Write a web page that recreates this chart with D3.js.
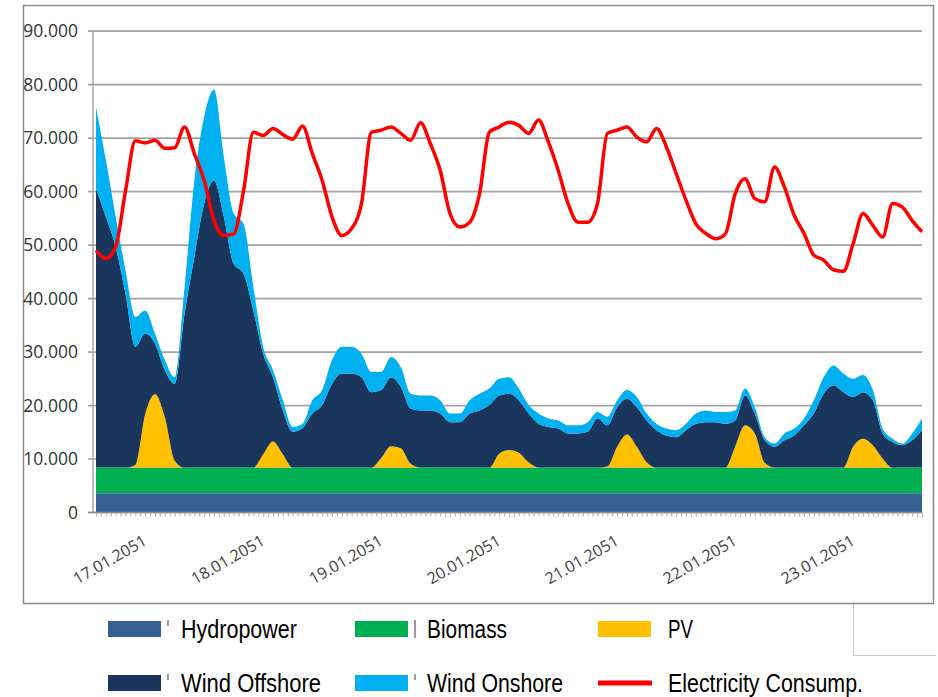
<!DOCTYPE html>
<html>
<head>
<meta charset="utf-8">
<script src="https://cdn.jsdelivr.net/npm/d3@7/dist/d3.min.js"></script>
<style>
  body { margin: 0; background: #fff; }
  svg { display: block; }
</style>
</head>
<body>
<script>
// hours since 17.01.2051 00:00, one value every 2 hours
var hours = d3.range(0, 169, 2);

var hydropower = [3500,3500,3500,3500,3500,3500,3500,3500,3500,3500,3500,3500,3500,3500,3500,3500,3500,3500,3500,3500,
  3500,3500,3500,3500,3500,3500,3500,3500,3500,3500,3500,3500,3500,3500,3500,3500,3500,3500,3500,3500,
  3500,3500,3500,3500,3500,3500,3500,3500,3500,3500,3500,3500,3500,3500,3500,3500,3500,3500,3500,3500,
  3500,3500,3500,3500,3500,3500,3500,3500,3500,3500,3500,3500,3500,3500,3500,3500,3500,3500,3500,3500,
  3500,3500,3500,3500,3500];
var biomass = [4800,4800,4800,4800,4800,4800,4800,4800,4800,4800,4800,4800,4800,4800,4800,4800,4800,4800,4800,4800,
  4800,4800,4800,4800,4800,4800,4800,4800,4800,4800,4800,4800,4800,4800,4800,4800,4800,4800,4800,4800,
  4800,4800,4800,4800,4800,4800,4800,4800,4800,4800,4800,4800,4800,4800,4800,4800,4800,4800,4800,4800,
  4800,4800,4800,4800,4800,4800,4800,4800,4800,4800,4800,4800,4800,4800,4800,4800,4800,4800,4800,4800,
  4800,4800,4800,4800,4800];
var pv = [0,0,0,0,500,10000,13700,9400,1300,0,0,0,0,0,0,0,0,2500,4900,2500,
  0,0,0,0,0,0,0,0,0,1800,4000,3600,700,0,0,0,0,0,0,0,
  0,2600,3300,2800,1000,0,0,0,0,0,0,0,200,3900,6200,3900,1000,0,0,0,
  0,0,0,0,0,3900,7900,6400,900,0,0,0,0,0,0,0,0,3900,5400,4200,
  1700,0,0,0,0];
var windOffshore = [52200,46900,41300,32500,22100,15100,9500,8800,14400,28700,39400,49400,53700,46900,38100,36300,29400,18800,12000,8200,
  6700,7400,10100,11700,15700,17600,17600,16900,14100,12700,12900,11500,10300,10700,10700,10100,8500,8500,10100,10700,
  11700,10900,10500,9800,9100,8200,7600,7300,6400,6400,6700,9200,7700,7400,6700,7400,7800,7000,6000,5700,
  7000,8200,8500,8500,8200,4900,5600,3700,4200,3900,5100,6000,7900,10100,13800,15400,14100,9300,8700,8400,
  4700,4800,4200,5100,7000];
var windOnshore = [15200,10600,5600,4400,5600,4300,1900,1900,1200,5000,14300,16200,17000,11200,9400,9300,4400,1300,1300,1900,
  900,800,2500,2800,4400,5000,5000,4400,3800,3400,3800,3700,2800,2800,2800,2500,1600,1600,2500,3100,
  3100,3100,3100,2200,1600,1900,1600,1500,1500,1500,1800,1200,1600,1300,1600,1900,1300,1200,1300,1300,
  1200,1900,2200,1900,2200,1900,1300,1200,600,600,1300,1300,1300,2500,3100,3700,3500,3400,3200,1900,
  900,600,300,1300,2200];
var consumption = [48900,47400,49600,60000,69400,69000,69500,68000,68100,72000,67000,62000,54500,51700,52000,60000,71000,70400,71700,70600,
  69700,72200,67000,62000,55200,51700,53000,57700,71000,71400,72000,70800,69500,72800,68900,63900,55800,53300,54200,59500,
  71000,72000,72900,72300,70800,73300,69200,63900,57700,54200,54200,57700,70800,71400,72000,70100,69200,71700,68300,63300,
  58300,53900,52100,51100,52000,59500,62300,58600,58000,64500,60800,55500,52100,48000,47100,45300,45000,50200,55800,53600,
  51400,57700,57000,54500,52400];

var dayLabels = ["17.01.2051","18.01.2051","19.01.2051","20.01.2051","21.01.2051","22.01.2051","23.01.2051"];
var yTicks = [0,10000,20000,30000,40000,50000,60000,70000,80000,90000];

var seriesNames = ["Hydropower","Biomass","PV","Wind Offshore","Wind Onshore"];
var seriesColors = ["#376092","#00b050","#ffc000","#1b365d","#00b0f0"];
var lineColor = "#ff0000";

var width = 938, height = 697;
var plotLeft = 96, plotRight = 922, plotTop = 30.7, plotBottom = 512;

var svg = d3.select("body").append("svg")
  .attr("width", width)
  .attr("height", height);

svg.append("rect").attr("width", width).attr("height", height).attr("fill", "#fff");

var x = d3.scaleLinear().domain([0, 168]).range([plotLeft, plotRight]);
var y = d3.scaleLinear().domain([0, 90000]).range([plotBottom, plotTop]);

var de = d3.formatLocale({decimal: ",", thousands: ".", grouping: [3], currency: ["", "€"]});
var fmt = de.format(",.0f");

// outer frame
svg.append("rect")
  .attr("x", 23.5).attr("y", 5.5)
  .attr("width", 910).attr("height", 598)
  .attr("fill", "none")
  .attr("stroke", "#8a8a8a")
  .attr("stroke-width", 1.5);
svg.append("path")
  .attr("d", "M853.5,604V655.5H936")
  .attr("fill", "none")
  .attr("stroke", "#c8c8c8")
  .attr("stroke-width", 1);

// grid lines + y axis
var yAxis = d3.axisLeft(y)
  .tickValues(yTicks)
  .tickSize(-(plotRight - 88))
  .tickPadding(10)
  .tickFormat(fmt);
var gy = svg.append("g")
  .attr("transform", "translate(88,0)")
  .call(yAxis);
gy.select(".domain").remove();
gy.selectAll(".tick line")
  .attr("stroke", "#a3a3a3")
  .attr("stroke-width", 1.7);
gy.selectAll(".tick text")
  .attr("fill", "#333")
  .attr("font-family", "'Open Sans', sans-serif")
  .attr("font-size", "17.5px")
  .attr("dy", "0.35em");

svg.append("line")
  .attr("x1", 93).attr("x2", 93)
  .attr("y1", plotTop).attr("y2", plotBottom)
  .attr("stroke", "#a6a6a6").attr("stroke-width", 1.5);

// stacked areas
var rows = hours.map(function(h, i) {
  return {
    hour: h,
    "Hydropower": hydropower[i],
    "Biomass": biomass[i],
    "PV": pv[i],
    "Wind Offshore": windOffshore[i],
    "Wind Onshore": windOnshore[i]
  };
});
var stack = d3.stack().keys(seriesNames);
var layers = stack(rows);

var area = d3.area()
  .curve(d3.curveMonotoneX)
  .x(function(d) { return x(d.data.hour); })
  .y0(function(d) { return y(d[0]); })
  .y1(function(d) { return y(d[1]); });

svg.selectAll("path.layer")
  .data(layers)
  .enter()
  .append("path")
  .attr("class", "layer")
  .attr("d", area)
  .attr("fill", function(d, i) { return seriesColors[i]; });

// x axis with hourly minor ticks
var xAxis = d3.axisBottom(x)
  .tickValues(d3.range(0, 169, 1))
  .tickSize(4)
  .tickFormat("");
var gx = svg.append("g")
  .attr("transform", "translate(0," + (plotBottom + 0.5) + ")")
  .call(xAxis);
gx.select(".domain")
  .attr("d", "M88,0H" + plotRight)
  .attr("stroke", "#8c8c8c")
  .attr("stroke-width", 1.5);
gx.selectAll(".tick line")
  .attr("stroke", "#9a9a9a")
  .attr("stroke-width", 0.8);

svg.selectAll("text.day")
  .data(dayLabels)
  .enter()
  .append("text")
  .attr("class", "day")
  .attr("transform", function(d, i) {
    return "translate(" + (x(12 + 24 * i) - 7) + ",544) rotate(-30)";
  })
  .attr("text-anchor", "end")
  .attr("font-family", "'Open Sans', sans-serif")
  .attr("font-size", "16px")
  .attr("fill", "#404040")
  .text(function(d) { return d; });

// consumption line
var line = d3.line()
  .curve(d3.curveMonotoneX)
  .x(function(d, i) { return x(hours[i]); })
  .y(function(d) { return y(d); });

svg.append("path")
  .datum(consumption)
  .attr("d", line)
  .attr("fill", "none")
  .attr("stroke", lineColor)
  .attr("stroke-width", 3.5)
  .attr("stroke-linejoin", "round");

// legend
var legendItems = [
  {name: "Hydropower", color: seriesColors[0], x: 108, y: 629, tx: 181, tw: 116, type: "rect", mark: "short"},
  {name: "Biomass", color: seriesColors[1], x: 355, y: 629, tx: 427, tw: 80, type: "rect", mark: "long"},
  {name: "PV", color: seriesColors[2], x: 598, y: 629, tx: 668, tw: 25, type: "rect", mark: ""},
  {name: "Wind Offshore", color: seriesColors[3], x: 108, y: 683, tx: 181, tw: 140, type: "rect", mark: "short"},
  {name: "Wind Onshore", color: seriesColors[4], x: 355, y: 683, tx: 427, tw: 136, type: "rect", mark: "short"},
  {name: "Electricity Consump.", color: lineColor, x: 598, y: 683, tx: 668, tw: 195, type: "line", mark: ""}
];

var lg = svg.selectAll("g.legend")
  .data(legendItems)
  .enter()
  .append("g")
  .attr("class", "legend");

lg.filter(function(d) { return d.type == "rect"; })
  .append("rect")
  .attr("x", function(d) { return d.x; })
  .attr("y", function(d) { return d.y - 8; })
  .attr("width", 53)
  .attr("height", 16)
  .attr("fill", function(d) { return d.color; });

lg.filter(function(d) { return d.type == "line"; })
  .append("line")
  .attr("x1", function(d) { return d.x; })
  .attr("x2", function(d) { return d.x + 54; })
  .attr("y1", function(d) { return d.y; })
  .attr("y2", function(d) { return d.y; })
  .attr("stroke", function(d) { return d.color; })
  .attr("stroke-width", 5);

// little clipped marks next to some swatches
lg.filter(function(d) { return d.mark != ""; })
  .append("line")
  .attr("x1", function(d) { return d.x + 60; })
  .attr("x2", function(d) { return d.x + 60; })
  .attr("y1", function(d) { return d.y - 9; })
  .attr("y2", function(d) { return d.mark == "long" ? d.y + 9 : d.y - 3; })
  .attr("stroke", "#555")
  .attr("stroke-width", 1.2);

lg.append("text")
  .attr("x", function(d) { return d.tx; })
  .attr("y", function(d) { return d.y + 9; })
  .attr("textLength", function(d) { return d.tw; })
  .attr("lengthAdjust", "spacingAndGlyphs")
  .attr("font-family", "'Liberation Sans', Arial, sans-serif")
  .attr("font-size", "25px")
  .attr("fill", "#000")
  .text(function(d) { return d.name; });
</script>
</body>
</html>
